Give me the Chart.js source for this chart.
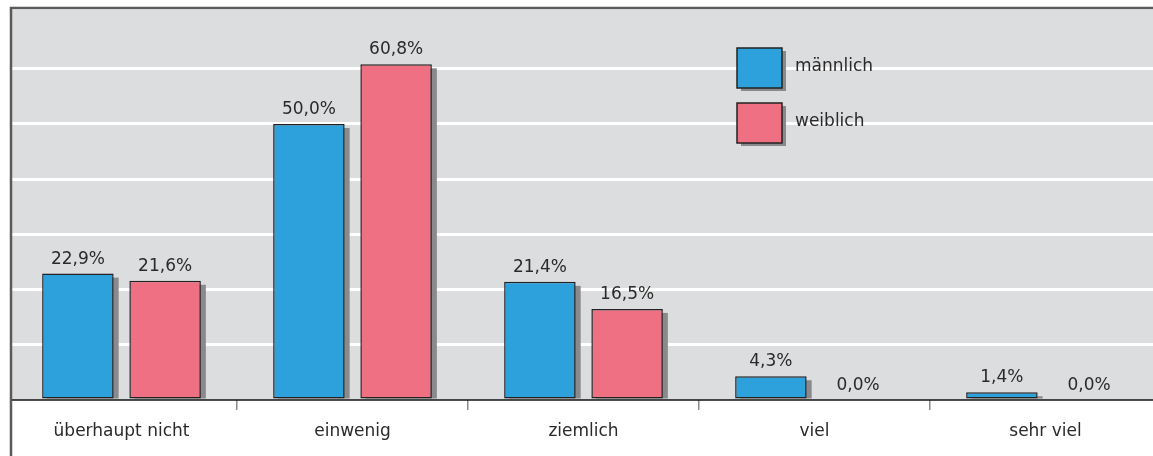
<!DOCTYPE html>
<html lang="de">
<head>
<meta charset="utf-8">
<title>Antworten nach Geschlecht</title>
<script src="https://cdn.jsdelivr.net/npm/chart.js@4/dist/chart.umd.min.js"></script>
<style>
  html, body { margin: 0; padding: 0; background: #ffffff; overflow: hidden; }
  #chart { display: block; }
</style>
</head>
<body>
<canvas id="chart" width="1161" height="456"></canvas>
<script>
// categories and values (percent)
const categories = ["überhaupt nicht", "einwenig", "ziemlich", "viel", "sehr viel"];
const maennlich = [22.9, 50.0, 21.4, 4.3, 1.4];
const weiblich = [21.6, 60.8, 16.5, 0.0, 0.0];
const seriesNames = ["männlich", "weiblich"];
const seriesColors = ["#2ca1db", "#f07083"];

const FONT = "'DejaVu Sans', sans-serif";
const TEXT = "#2a2a2a";
const FRAME_X = 11;

// grey plot background
const plotBackground = {
  id: "plotBackground",
  beforeDraw(chart) {
    const { ctx, chartArea: a } = chart;
    ctx.save();
    ctx.fillStyle = "#dcdddf";
    ctx.fillRect(FRAME_X, a.top, a.right - FRAME_X, a.bottom - a.top);
    ctx.restore();
  }
};

// grey drop shadow to the right of each bar
const barShadow = {
  id: "barShadow",
  beforeDatasetsDraw(chart) {
    const { ctx } = chart;
    ctx.save();
    ctx.fillStyle = "#8a8a8c";
    chart.data.datasets.forEach((ds, i) => {
      chart.getDatasetMeta(i).data.forEach((bar, j) => {
        if (!ds.data[j]) return;
        const left = bar.x - bar.width / 2;
        ctx.fillRect(left + 5, bar.y + 4, bar.width, bar.base - bar.y - 4);
      });
    });
    ctx.restore();
  }
};

// value labels above bars
const valueLabels = {
  id: "valueLabels",
  afterDatasetsDraw(chart) {
    const { ctx } = chart;
    ctx.save();
    ctx.font = "17px " + FONT;
    ctx.fillStyle = TEXT;
    ctx.textAlign = "center";
    ctx.textBaseline = "alphabetic";
    chart.data.datasets.forEach((ds, i) => {
      chart.getDatasetMeta(i).data.forEach((bar, j) => {
        const txt = ds.data[j].toFixed(1).replace(".", ",") + "%";
        ctx.fillText(txt, bar.x, bar.y - 10);
      });
    });
    ctx.restore();
  }
};

// legend boxes inside the plot, axis line and frame
const boxLegend = {
  id: "boxLegend",
  afterDraw(chart) {
    const { ctx, chartArea: a } = chart;
    ctx.save();
    const bx = 737, by = [48, 103], bw = 45, bh = 40;
    chart.data.datasets.forEach((ds, i) => {
      ctx.fillStyle = "#8a8a8c";
      ctx.fillRect(bx + 4, by[i] + 3, bw, bh);
      ctx.fillStyle = ds.backgroundColor;
      ctx.fillRect(bx, by[i], bw, bh);
      ctx.strokeStyle = "#222";
      ctx.lineWidth = 1.5;
      ctx.strokeRect(bx, by[i], bw, bh);
      ctx.fillStyle = TEXT;
      ctx.font = "17px " + FONT;
      ctx.textAlign = "left";
      ctx.textBaseline = "middle";
      ctx.fillText(ds.label, bx + 58, by[i] + bh / 2 - 1);
    });
    // baseline
    ctx.strokeStyle = "#111";
    ctx.lineWidth = 1.5;
    ctx.beginPath();
    ctx.moveTo(FRAME_X, a.bottom);
    ctx.lineTo(a.right, a.bottom);
    ctx.stroke();
    // frame: top and left edge
    ctx.strokeStyle = "#5a5a5a";
    ctx.lineWidth = 2.5;
    ctx.beginPath();
    ctx.moveTo(FRAME_X, chart.height);
    ctx.lineTo(FRAME_X, a.top);
    ctx.lineTo(a.right, a.top);
    ctx.stroke();
    ctx.restore();
  }
};

new Chart(document.getElementById("chart"), {
  type: "bar",
  data: {
    labels: categories,
    datasets: [
      { label: seriesNames[0], data: maennlich, backgroundColor: seriesColors[0] },
      { label: seriesNames[1], data: weiblich, backgroundColor: seriesColors[1] }
    ].map(d => Object.assign(d, {
      borderColor: "#222",
      borderWidth: 1.5,
      borderSkipped: false,
      categoryPercentage: 0.755,
      barPercentage: 0.82
    }))
  },
  options: {
    responsive: false,
    animation: false,
    layout: { padding: { left: 6, top: 8, right: 0, bottom: 0 } },
    plugins: { legend: { display: false }, tooltip: { enabled: false } },
    scales: {
      x: {
        afterFit(scale) { scale.height = 56; },
        grid: {
          offset: true,
          drawOnChartArea: false,
          drawTicks: true,
          tickLength: 10,
          color: c => (c.index === 0 ? "rgba(0,0,0,0)" : "#8a8a8a"),
          lineWidth: 1.5
        },
        border: { display: false },
        ticks: { color: TEXT, font: { size: 17, family: FONT }, padding: 11 }
      },
      y: {
        min: 0,
        max: 71,
        afterFit(scale) { scale.width = 0; },
        ticks: { display: false, stepSize: 10 },
        border: { display: false },
        grid: {
          drawTicks: false,
          lineWidth: 3,
          color: c => (c.tick && c.tick.value === 0 ? "rgba(0,0,0,0)" : "#ffffff")
        }
      }
    }
  },
  plugins: [plotBackground, barShadow, valueLabels, boxLegend]
});
</script>
</body>
</html>
